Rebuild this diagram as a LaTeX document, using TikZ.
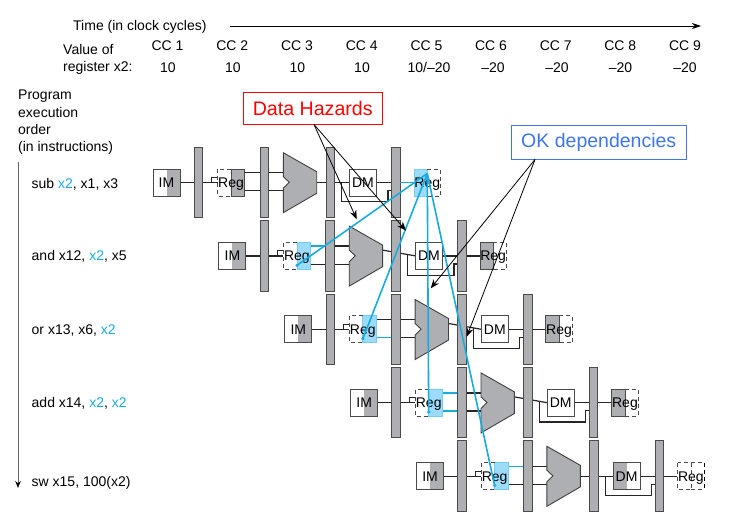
\documentclass[tikz,border=0pt]{standalone}
\usepackage{fontspec}
\setmainfont{Liberation Sans}
\usetikzlibrary{calc,arrows.meta,backgrounds}
\definecolor{cblue}{HTML}{18ABE2}
\definecolor{cfill}{HTML}{9CDCFA}
\definecolor{cgray}{HTML}{AEAFB2}
\definecolor{cedge}{HTML}{4A4A4A}
\definecolor{okblue}{HTML}{3F74F2}
\newcommand{\blu}[1]{\textcolor{cblue}{#1}}
\newcommand{\fs}{\fontsize{14}{17}\selectfont}
\tikzset{
 lbl/.style={inner sep=0pt,font=\fs,text=black,anchor=base},
 lbll/.style={inner sep=0pt,font=\fs,text=black,anchor=base west},
 unit/.style={minimum width=27pt,minimum height=27pt,inner sep=0pt,outer sep=0pt,font=\fs,text height=9.8pt,text depth=0pt},
 solidbox/.style={unit,draw=cedge,line width=.9pt},
 halfg/.style={fill=cgray,draw=cedge,line width=.8pt},
 halfb/.style={fill=cfill,draw=cfill!70!cblue,line width=.8pt},
 halfd/.style={draw=cedge,line width=.7pt,dash pattern=on 4pt off 3pt},
 halfr/.style={path picture={\fill[#1] (path picture bounding box.south) rectangle (path picture bounding box.north east);}},
 halfl/.style={path picture={\fill[#1] (path picture bounding box.south west) rectangle (path picture bounding box.north);}},
 plain/.style={},
 barbox/.style={draw=cedge,fill=cgray,line width=1pt,minimum width=8.5pt,minimum height=70.5pt,inner sep=0pt,outer sep=0pt},
 wire/.style={draw=black!85,line width=1.2pt},
 wirea/.style={draw=#1,line width=1.2pt},
 alubody/.style={fill=cgray,draw=black!75,line width=.9pt,line join=miter},
 dep/.style={draw=cblue,line width=1.6pt},
 callout/.style={-{Stealth[length=9pt,width=7pt]},draw=black,line width=.8pt},
 dot/.style={fill=cblue,draw=none,circle,minimum size=3.5pt,inner sep=0pt},
 redbox/.style={draw=red,line width=1pt,text=red,minimum width=139.5pt,minimum height=32pt,inner sep=0pt,font=\fontsize{19.6}{22}\selectfont},
 okbox/.style={draw=okblue,line width=1pt,text=okblue,minimum width=175.5pt,minimum height=34pt,inner sep=0pt,font=\fontsize{19.5}{22}\selectfont},
}
% #1 row, #2 id right half, #3 wb left half, #4 dm style, #5 top wire, #6 bottom wire, #7 alu output y
\newcommand{\pipe}[7]{%
 \begin{scope}[shift={({153+65.9*(#1-1)},{182.5+73.4*(#1-1)})}]
  \node[solidbox,halfr=cgray] (im#1) at (13.5,0) {IM};
  \path[#2] (78,-13.5) rectangle (91.5,13.5);
  \draw[halfd] (78,-13.5) -- (64.5,-13.5) -- (64.5,13.5) -- (78,13.5);
  \node[unit] (id#1) at (78,0) {Reg};
  \node[solidbox,#4] (dm#1) at (210,0) {DM};
  \path[#3] (261,-13.5) rectangle (274.25,13.5);
  \draw[halfd] (274.25,-13.5) -- (287.5,-13.5) -- (287.5,13.5) -- (274.25,13.5);
  \node[unit] (wb#1) at (274.25,0) {Reg};
  \node[barbox] (ba#1) at (45.5,0) {};
  \node[barbox] (bb#1) at (111.3,0) {};
  \node[barbox] (bc#1) at (177.3,0) {};
  \node[barbox] (bd#1) at (243,0) {};
  \coordinate (yt#1) at (0,-9.8);
  \coordinate (yb#1) at (0,8.2);
  \coordinate (ylow#1) at (0,19.2);
  \coordinate (ymid#1) at (0,8);
  \coordinate (xstub#1) at (58.7,0);
  \coordinate (xup#1) at (235,0);
  \coordinate (xalu#1) at (130.3,0);
  \coordinate (aluo#1) at (163.7,#7);
  \path[alubody,draw] (130.3,-29.8) -- (163.7,-10.8) -- (163.7,10.8) -- (130.3,30.2) -- (130.3,5.8) -- (136.3,-.2) -- (130.3,-5.8) -- cycle;
  \begin{pgfonlayer}{background}
   \draw[wire] (im#1.east) -- (ba#1.west);
   \draw[wire] (ba#1.east) -- (id#1.west);
   \draw[wire,line width=.7pt] (xstub#1) -- ++(0,-5.2) -- ++(5.8,0);
   \draw[wirea=#5] (id#1.east |- yt#1) -- (bb#1.west |- yt#1);
   \draw[wirea=#6] (id#1.east |- yb#1) -- (bb#1.west |- yb#1);
   \draw[wire] (bb#1.east |- yt#1) -- (xalu#1 |- yt#1);
   \draw[wire] (bb#1.east |- yb#1) -- (xalu#1 |- yb#1);
   \draw[wire] (aluo#1) -- (dm#1.west);
   \coordinate (brp#1) at ($(aluo#1)!0.767!(dm#1.west)$);
   \draw[wire] (brp#1) -- (brp#1 |- ylow#1) -- (xup#1 |- ylow#1) -- (xup#1 |- ymid#1) -- (bd#1.west |- ymid#1);
   \draw[wire] (dm#1.east) -- (bd#1.west);
   \draw[wire] (bd#1.east) -- (wb#1.west);
  \end{pgfonlayer}
 \end{scope}}
\begin{document}
\begin{tikzpicture}[x=1pt,y=-1pt]
\useasboundingbox (0,0) rectangle (729,532);
% header
\node[lbll] (time) at (73,30.7) {Time (in clock cycles)};
\coordinate (timeend) at (701,26);
\coordinate (timestart) at (230,26);
\draw[-{Stealth[length=9pt,width=6pt]},line width=.8pt] (timestart) -- (timeend);
\node[lbll] (val) at (63,54.5) {Value of};
\node[lbll] (regx) at (63,71.7) {register x2:};
\foreach \n/\x/\v/\vx in {1/167.5/10/168,2/232.2/10/233,3/297/10/297.5,4/361.7/10/362,6/491/–20/493,7/555.8/–20/557,8/620.3/–20/620.5,9/685/–20/685}{
 \node[lbl] (cc\n) at (\x,50.7) {CC \n};
 \node[lbl] (v\n) at (\vx,72.7) {\v};
}
\node[lbl] (cc5) at (426.5,50.7) {CC 5};
\node[lbl] (v5) at (429,72.7) {10/–20};
\node[lbll] (p1) at (18,100) {Program};
\node[lbll] (p2) at (18,117.3) {execution};
\node[lbll] (p3) at (18,134.7) {order};
\node[lbll] (p4) at (18,152) {(in instructions)};
\coordinate (ordtop) at (18,162);
\coordinate (ordend) at (18,488);
\draw[draw=black!60,line width=1pt,-{Stealth[length=7pt,width=5.5pt,color=black]}] (ordtop) -- (ordend);
\node[lbll] (i1) at (31.5,188.3) {sub \blu{x2}, x1, x3};
\node[lbll] (i2) at (31.5,261) {and x12, \blu{x2}, x5};
\node[lbll] (i3) at (31.5,334.3) {or x13, x6, \blu{x2}};
\node[lbll] (i4) at (31.5,407.7) {add x14, \blu{x2}, \blu{x2}};
\node[lbll] (i5) at (31.5,486) {sw x15, 100(x2)};
% pipeline rows
\pipe{1}{halfg}{halfb}{plain}{black!85}{black!85}{0}
\pipe{2}{halfb}{halfg}{plain}{cblue}{black!85}{-5.8}
\pipe{3}{halfb}{halfg}{plain}{black!85}{cblue}{-5.8}
\pipe{4}{halfb}{halfg}{plain}{cblue}{cblue}{-5.8}
\pipe{5}{halfb}{halfd}{halfl=cgray}{cblue}{black!85}{0}
\draw[dep] (bd1.east) -- (wb1.west);
\draw[line width=1.3pt,dash pattern=on 4pt off 3pt] (wb5.north east) -- (wb5.south east);
% dependencies
\coordinate (src) at ([yshift=9pt]wb1.center);
\foreach \r in {2,3,4,5}{
 \coordinate (t\r) at ([yshift=-9.5pt]id\r.center);
 \draw[dep] (src) -- (t\r);
 \node[dot] (dot\r) at (t\r) {};
}
% callouts
\node[redbox] (dh) at (312.75,108.5) {Data Hazards};
\node[okbox] (ok) at (598.75,142.5) {OK dependencies};
\coordinate (dhs) at (314,124.5);
\coordinate (oks) at (535,159.5);
\coordinate (dh1) at (356.7,219.3);
\coordinate (dh2) at (406,230.7);
\coordinate (ok1) at (430.7,288.3);
\coordinate (ok2) at (466.7,336.7);
\draw[callout] (dhs) -- (dh1);
\draw[callout] (dhs) -- (dh2);
\draw[callout] (oks) -- (ok1);
\draw[callout] (oks) -- (ok2);
\end{tikzpicture}
\end{document}
